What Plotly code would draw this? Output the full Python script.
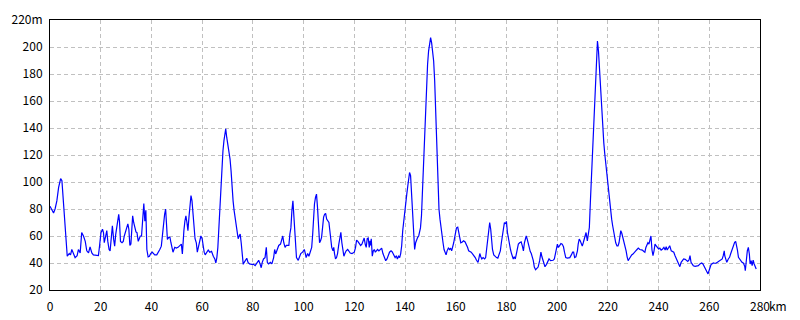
import plotly.graph_objects as go

distance_km = [
    0, 0.7, 1.4, 2, 2.7, 3.4, 4.2, 4.7, 5.2, 5.75, 6.3, 6.8, 7.6, 8.1, 8.6, 9.3, 9.9, 10.7, 11.2, 11.9,
    12.5, 13.2, 13.9, 14.5, 15.2, 15.8, 16.5, 17.1, 18.4, 19.1, 19.5, 20.1, 20.7, 21.1, 21.4, 21.9, 22.4, 22.8, 23.3, 23.7,
    24.1, 24.6, 25.1, 25.5, 25.9, 26.3, 26.7, 27.1, 27.4, 27.8, 28.4, 28.9, 29.3, 29.8, 30.3, 30.7, 31.1, 31.5, 31.9, 32.3,
    32.6, 33.0, 33.5, 33.9, 34.3, 34.8, 35.2, 35.6, 36.1, 36.6, 37.0, 37.4, 37.8, 38.2, 38.7, 39.2, 39.7, 40.3, 40.8, 41.3,
    42.1, 42.6, 43.3, 43.9, 44.4, 44.8, 45.2, 45.6, 46.0, 46.3, 46.8, 47.3, 47.7, 48.1,
    48.5, 49.2, 49.8, 50.5, 51.1, 51.8, 52.2, 52.4, 52.8, 53.2, 53.6, 54.0, 54.4, 54.8, 55.2, 55.6, 56.0, 56.4, 56.8, 57.2,
    57.7, 58.1, 58.5, 59.1, 59.5, 60.0, 60.4, 60.8, 61.2, 61.7, 62.4, 63.0, 63.7, 64.4, 65.0, 65.4, 65.8, 66.2, 66.6, 67.0,
    67.4, 67.8, 68.2, 68.6, 69.0, 69.3, 69.7, 70.1, 70.5, 71.0, 71.4, 71.8, 72.2, 72.6, 73.0, 73.4, 73.8, 74.2, 74.6, 75.0,
    75.4, 75.8, 76.2, 76.6, 77.1, 77.6, 78.1, 78.7, 79.6, 80.3, 80.9, 81.6, 82.3, 82.9, 83.3, 83.7, 84.2, 84.8, 85.3, 85.7,
    86.2, 86.9, 87.5, 88.2, 88.6, 89.0, 89.5, 90.2, 90.9, 91.4, 91.8, 92.2, 92.7, 93.2, 94.2, 94.6, 95.0, 95.4, 95.8, 96.2,
    96.6, 96.8, 97.2, 97.9, 98.4, 98.9, 99.6, 100.3, 100.7, 101.0, 101.6, 102.1, 102.6, 103.2, 103.6, 103.9, 104.3, 104.7, 105.1, 105.5,
    105.9, 106.3, 106.7, 107.1, 107.5, 107.9, 108.3, 108.7, 109.1, 109.5, 110.0, 110.3, 110.7, 111.1, 111.6, 111.9, 112.2, 112.6, 113.0, 113.4,
    113.9, 114.3, 114.7, 115.1, 115.5, 115.9, 116.3, 116.8, 117.4, 117.9, 118.4, 119.1, 120.0, 120.5, 120.9, 121.4, 122.0, 122.5, 123.0, 123.6,
    123.9, 124.3, 124.7, 125.1, 125.5, 125.9, 126.2, 126.4, 126.7, 127.1, 127.5, 127.9, 128.3, 128.7, 129.2, 129.7, 130.3, 130.8, 131.3, 131.8,
    132.4, 132.9, 133.4, 133.9, 134.5, 134.9, 135.3, 135.7, 136.1, 136.6, 137.0, 137.5, 137.9, 138.3, 138.7, 139.1, 139.5, 139.9, 140.3, 140.7,
    141.1, 141.4, 141.8, 142.2, 142.6, 143.0, 143.4, 143.8,
    144.2, 144.6, 145.0, 145.4, 145.8, 146.1, 146.5, 146.9, 147.3, 147.7, 148.1, 148.5, 148.9, 149.3, 149.7, 150.1, 150.5, 150.9, 151.3, 151.7,
    152.2, 152.6, 153.0, 153.4, 153.8, 154.2, 154.6, 155.0, 155.4, 155.8, 156.2, 156.6, 157.1, 157.6, 158.0, 158.4, 158.8, 159.2, 159.6, 159.9,
    160.3, 160.8, 161.2, 161.6, 162.0, 162.6, 163.1, 163.7, 164.2, 164.7, 165.1, 165.6, 166.1, 166.7, 167.2, 167.7, 168.2, 168.8, 169.2, 169.5,
    169.9, 170.3, 170.8, 171.4, 171.8, 172.2, 172.6, 173.0, 173.4, 173.8, 174.1, 174.5, 175.0, 175.6, 176.1, 176.6, 177.1, 177.6, 178.0, 178.4,
    178.8, 179.2, 179.6, 180.0, 180.4, 180.8, 181.2, 181.6, 182.0, 182.4, 182.7, 183.1, 183.5, 183.9, 184.3, 184.7, 185.2, 185.8, 186.3, 186.7,
    187.1, 187.5, 187.8, 188.2, 188.6, 189.0, 189.4, 189.8, 190.2, 190.6, 191.0,
    191.5, 192.0, 192.5, 193.1, 193.6, 194.0, 194.4, 194.8, 195.2, 195.8, 196.3, 196.8, 197.4, 197.9, 198.4, 198.9, 199.3, 199.7, 200.1, 200.5,
    200.9, 201.5, 202.0, 202.5, 202.9, 203.4, 204.0, 204.5, 205.0, 205.6, 206.1, 206.5, 206.9, 207.4, 208.0, 208.3, 208.7, 209.1, 209.5, 209.9,
    210.3, 210.7, 211.1, 211.4, 211.7, 211.9, 212.3, 212.7, 213.1, 213.5, 213.9, 214.3, 214.7, 215.1, 215.5, 215.9, 216.3, 216.7, 217.2, 217.6,
    218.0, 218.4, 218.8, 219.2, 219.6, 219.9, 220.3, 220.7, 221.1, 221.5, 221.9, 222.3, 222.7, 223.1, 223.6, 224.0, 224.4, 224.8, 225.1, 225.5,
    225.9, 226.4, 226.8, 227.2, 227.6, 228.0, 228.4, 228.9, 229.4, 229.9, 230.4, 231.0, 231.5, 232.0, 232.6, 233.1, 233.6, 234.2, 234.6,
    235.0, 235.4, 235.8, 236.2, 236.6, 237.0, 237.4, 237.8, 238.2, 238.6, 239.0, 239.5, 240.0, 240.5, 241.0, 241.6, 242.1, 242.6, 243.0, 243.4,
    243.9, 244.4, 245.0, 245.5, 246.0, 246.5, 247.1, 247.6, 248.0, 248.4, 248.9, 249.4, 249.9, 250.5, 251.0, 251.5, 252.0, 252.4, 252.8, 253.2,
    253.7, 254.4, 255.0, 255.7, 256.3, 257.0, 257.5, 258.0, 258.6, 259.1, 259.5, 259.9, 260.3, 260.7, 261.0, 261.6, 262.1, 262.6, 263.2, 263.7,
    264.2, 264.7, 265.1, 265.5, 265.9, 266.1, 266.5, 266.9, 267.5, 268.0, 268.4, 268.8, 269.2, 269.6, 270.0, 270.4, 270.7, 271.1, 271.5, 271.9,
    272.4, 272.9, 273.5, 274.0, 274.2, 274.6, 275.0, 275.4, 275.8, 276.1, 276.5, 276.9, 277.3, 277.7, 278.1, 278.5,
]

elevation_m = [
    82, 80, 77, 80, 86, 96, 102.5, 101, 87.5, 66, 54, 45, 47, 46, 50, 46, 44, 45.5, 50, 47.5,
    62.5, 60, 56, 49, 47.5, 52, 47.5, 46, 46, 45.5, 52, 62.5, 65, 62.5, 55, 60, 64, 56, 50, 49,
    59, 67.5, 57.5, 52.5, 61, 66, 70, 76, 71, 56, 55, 56, 60, 64, 66, 69, 65, 53, 54, 66,
    75, 70, 65, 63, 62.5, 56, 58, 60, 60, 71, 84, 71, 79, 50, 44.5, 45, 47, 48, 47, 46,
    46, 47.5, 50, 52.5, 62.5, 69, 76, 80, 70, 57.5, 59, 59, 55, 50,
    48, 51.6, 51, 51.6, 53, 54, 46.7, 55, 64, 71, 75, 70, 64, 74, 85, 90, 86, 76, 68, 58,
    55, 48, 51.6, 58, 60, 58, 51.6, 48, 46, 48, 49.6, 48, 48.6, 45, 43, 40, 44, 51.6, 66, 83.7,
    103.5, 116, 123, 130.6, 138, 139.3, 133, 128, 124.4, 117, 108.4, 95, 86, 79, 74, 68, 63, 58, 60, 61.5,
    55, 49, 39, 40.5, 42, 43.5, 40.5, 39.3, 39, 39, 38, 40.5, 42, 39, 36.5, 40.5, 43, 44, 51.6, 40.5,
    39.3, 40.5, 39.3, 44, 50, 46.7, 50, 53, 54, 58, 60, 55, 51.6, 53, 53, 61.5, 66, 78.8, 86, 74,
    58, 49, 44, 42, 44, 47, 48, 50, 47, 44, 47, 45, 48, 51.6, 61.5, 75, 83.7, 88.6, 91, 81,
    70, 55, 56.5, 59, 66.4, 74, 76, 76.8, 72.6, 71.4, 70, 65, 58, 51.6, 49, 51.6, 47, 43, 44, 47,
    54, 60, 62.7, 55, 49, 45, 47, 49, 50, 48.4, 47.4, 47, 48, 51.6, 57, 56, 54, 53, 54, 56.5,
    58.5, 54, 51.6, 58, 58.5, 51.6, 56.5, 53, 58, 45, 49, 50, 48, 49, 50, 49, 50, 51, 47, 44,
    41.7, 43, 45.4, 48, 49, 48.4, 47, 45, 44, 45.4, 43, 45, 44, 47, 53, 64, 71.4, 81, 83.7, 91,
    97, 103.5, 107, 104.7, 91, 68, 54, 50,
    55, 57.7, 59, 60, 62.6, 66, 75, 93.5, 119.4, 138, 156, 175, 187, 197, 202, 207, 203, 197, 189.6, 175,
    144, 115.7, 96, 80, 72.5, 65, 59, 55, 50, 48, 46, 49, 51, 50, 51, 49, 51.5, 55, 59, 64,
    66, 66.5, 62.6, 59, 55, 55.6, 56.4, 55.6, 54, 51.5, 49, 48.5, 48, 46.6, 45.4, 44, 42, 40.5, 44, 47,
    44.6, 43, 44, 43, 44, 50, 57.7, 66.3, 70, 65, 57.7, 50, 46, 44.6, 44, 43.6, 46, 49, 55, 61,
    67.5, 70, 69, 70.8, 62.6, 57.7, 54, 50, 47, 44, 43, 44.6, 43, 46.6, 50, 54, 55, 55.6, 52.5, 49,
    55, 59.4, 60, 57.7, 54, 51.5, 48.5, 47, 44.6, 41.7, 37,
    35, 36, 37, 41.7, 48, 44.6, 41.7, 39, 37.2, 39, 41, 43, 41.7, 41.7, 42, 43, 47, 52.6, 54, 51.5,
    52.6, 54.4, 54, 52, 48, 44, 43.6, 43.6, 44, 46, 48, 48, 44, 44.6, 49, 54, 57.7, 56.4, 55, 52.6,
    55, 57.7, 60, 62.6, 59, 56.4, 61.4, 66.3, 85, 103, 113, 130.5, 150, 167.4, 187, 204.4, 197, 183.5, 163.7, 149,
    138, 129, 120.6, 113, 106, 98.4, 92, 86, 78.7, 72.5, 67.6, 62.6, 59, 55, 52.6, 52.6, 55, 60, 64, 62,
    59, 56.4, 52.6, 49, 44.6, 41.7, 43, 44.6, 46, 46.6, 48, 49, 50, 51, 50, 49.6, 49.6, 48.5, 48,
    51.5, 54, 55, 54, 56.4, 60, 49.6, 45.4, 49, 54, 52.8, 51.6, 50.4, 51, 49.6, 50.4, 51.6, 49.6, 52, 49.6,
    51.6, 52.8, 49, 48.6, 48, 45.4, 43, 41.7, 39.8, 37.3, 40.5, 42.2, 43, 42.7, 41.7, 41.2, 42.2, 45.4, 40.5, 38.8,
    38, 37.5, 38, 38, 39.3, 40, 39.3, 37.3, 35, 33.8, 31.9, 34.3, 37.3, 38.8, 39.3, 40, 39.8, 39.8, 40.5, 41.2,
    41.7, 42.2, 43, 45.4, 49, 45.4, 41.7, 40.5, 43, 44.2, 46.7, 49, 51.6, 54, 55.3, 56, 54, 49.6, 44.2, 43,
    41.7, 40.5, 39.8, 37.3, 34.3, 43, 49, 51.6, 46.7, 39.3, 41.7, 38, 42.2, 39.3, 36.8, 35.6,
]

x_tick_vals = list(range(0, 281, 20))
x_tick_text = [str(v) for v in x_tick_vals]
y_tick_vals = list(range(20, 221, 20))
y_tick_text = [str(v) for v in y_tick_vals[:-1]] + ["220m"]

FONT = "MS Gothic, Noto Sans CJK JP, sans-serif"

fig = go.Figure()
fig.add_trace(go.Scatter(
    x=distance_km, y=elevation_m, mode="lines",
    line=dict(color="#0000ff", width=1.2),
    hoverinfo="skip", showlegend=False,
))

grid_common = dict(
    showgrid=True, gridcolor="#c0c0c0", gridwidth=1, griddash="4px,3px",
    showline=True, linecolor="#000000", linewidth=1, mirror=True,
    ticks="", zeroline=False, automargin=False,
    tickfont=dict(family=FONT, size=12, color="#000000"),
)

fig.update_xaxes(range=[0, 280], tickmode="array", tickvals=x_tick_vals,
                 ticktext=x_tick_text, ticklabelstandoff=6, **grid_common)
fig.update_yaxes(range=[20, 220], tickmode="array", tickvals=y_tick_vals,
                 ticktext=y_tick_text, ticklabelstandoff=4, **grid_common)

fig.add_annotation(x=1, xref="paper", y=0, yref="paper", text="km",
                   showarrow=False, xanchor="left", yanchor="top",
                   xshift=7, yshift=-5,
                   font=dict(family=FONT, size=12, color="#000000"))

fig.update_layout(
    width=800, height=320,
    margin=dict(l=50, r=40, t=20, b=30),
    paper_bgcolor="#ffffff", plot_bgcolor="#ffffff",
)

fig.write_html("out.html")
